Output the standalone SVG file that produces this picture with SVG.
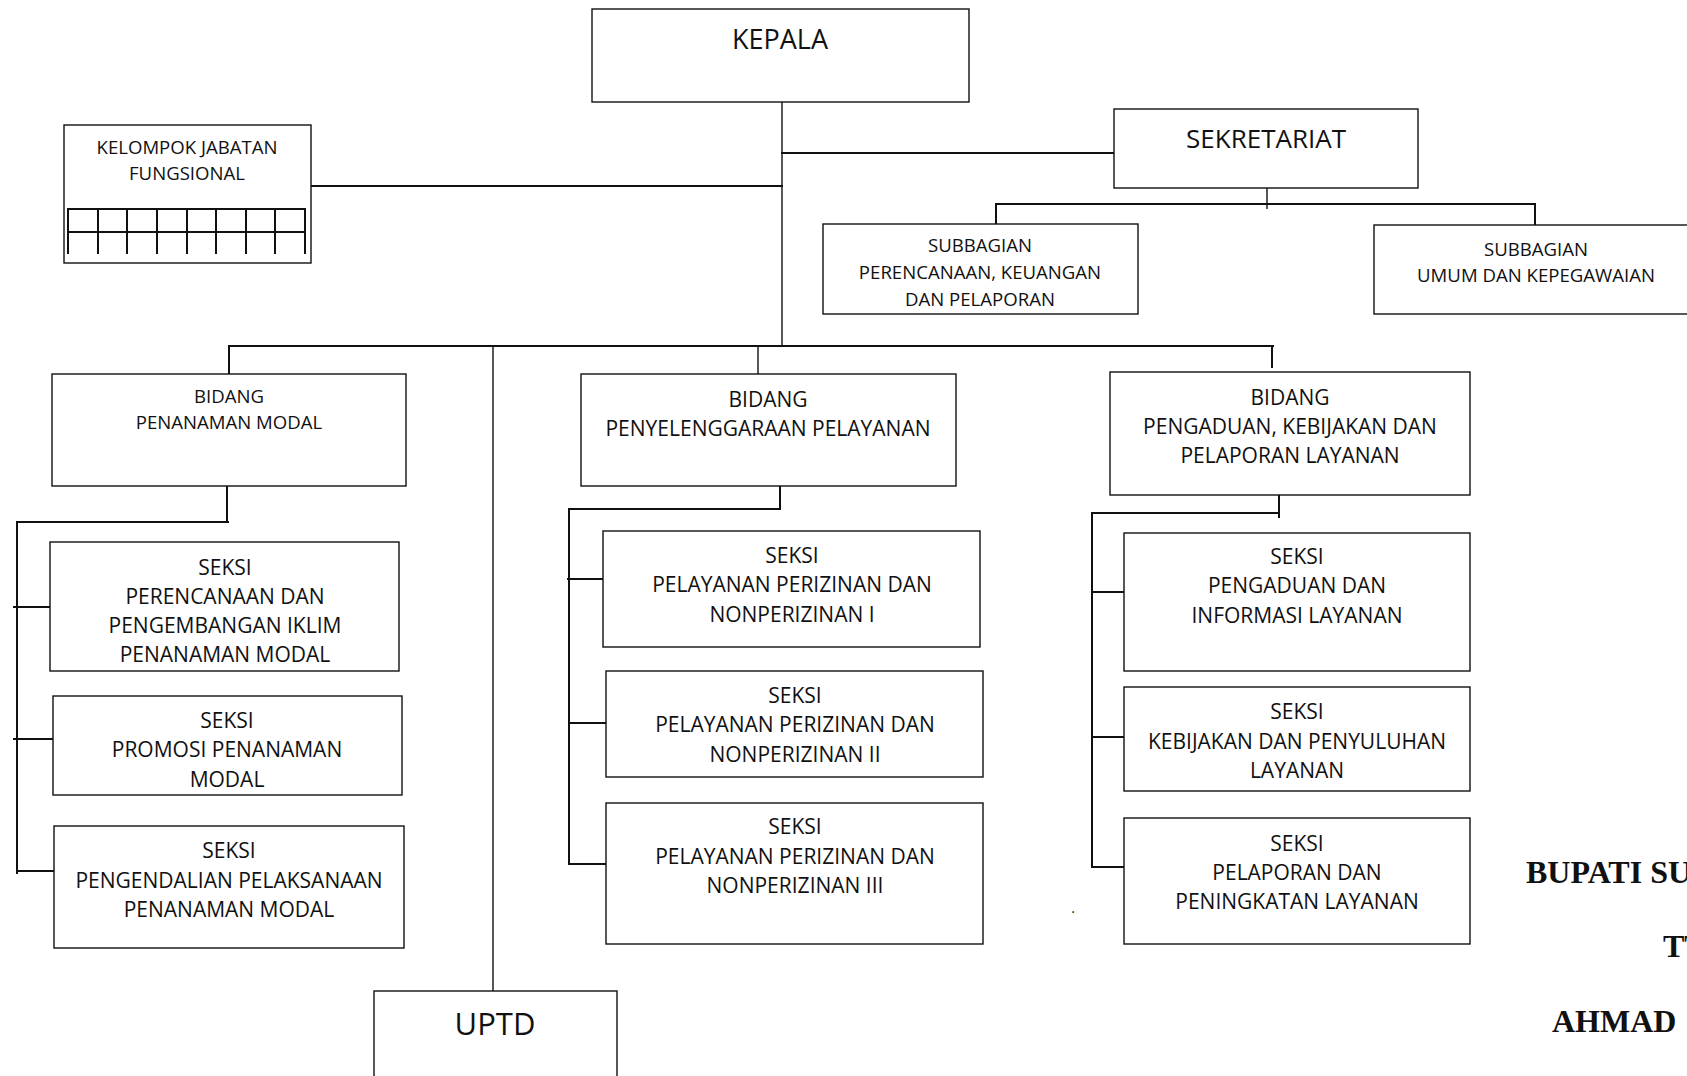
<svg xmlns="http://www.w3.org/2000/svg" width="1687" height="1076" viewBox="0 0 1687 1076">
<style>
.bg{fill:#fff}
.box{fill:#fff;stroke:#111;stroke-width:1.4}
.c{stroke:#111;stroke-width:2;fill:none;stroke-linecap:square}
.thin{stroke:#111;stroke-width:1.4;fill:none}
.t{font-family:"Open Sans","Noto Sans",sans-serif;text-anchor:middle;fill:#111}
.s18{font-size:18.6px}
.s21{font-size:21px}
.bup{font-family:"Liberation Serif","DejaVu Serif",serif;font-weight:bold;font-size:32px;fill:#111}
</style>
<rect class="bg" x="0" y="0" width="1687" height="1076"/>

<g id="connectors">
  <line class="thin" x1="782" y1="102" x2="782" y2="347"/>
  <line class="c" x1="782" y1="153" x2="1114" y2="153"/>
  <line class="c" x1="311" y1="186" x2="782" y2="186"/>
  <line class="thin" x1="1267" y1="188" x2="1267" y2="209"/>
  <polyline class="c" points="996,224 996,204 1535,204 1535,225"/>
  <line class="c" x1="229" y1="346" x2="1273" y2="346"/>
  <line class="c" x1="229" y1="346" x2="229" y2="374"/>
  <line class="thin" x1="493" y1="346" x2="493" y2="991"/>
  <line class="thin" x1="758" y1="346" x2="758" y2="376"/>
  <line class="c" x1="1272" y1="346" x2="1272" y2="367"/>
  <line class="c" x1="227" y1="486" x2="227" y2="522"/>
  <line class="c" x1="17" y1="522" x2="228" y2="522"/>
  <line class="c" x1="17" y1="522" x2="17" y2="873"/>
  <line class="c" x1="14" y1="607" x2="50" y2="607"/>
  <line class="c" x1="14" y1="739" x2="53" y2="739"/>
  <line class="c" x1="17" y1="871" x2="54" y2="871"/>
  <line class="c" x1="780" y1="486" x2="780" y2="509"/>
  <line class="c" x1="569" y1="509" x2="780" y2="509"/>
  <line class="c" x1="569" y1="509" x2="569" y2="864"/>
  <line class="c" x1="568" y1="579" x2="603" y2="579"/>
  <line class="c" x1="569" y1="723" x2="610" y2="723"/>
  <line class="c" x1="569" y1="864" x2="608" y2="864"/>
  <line class="c" x1="1279" y1="495" x2="1279" y2="517"/>
  <line class="c" x1="1092" y1="513" x2="1279" y2="513"/>
  <line class="c" x1="1092" y1="513" x2="1092" y2="867"/>
  <line class="c" x1="1092" y1="592" x2="1127" y2="592"/>
  <line class="c" x1="1092" y1="737" x2="1127" y2="737"/>
  <line class="c" x1="1092" y1="867" x2="1127" y2="867"/>
</g>

<g id="kepala">
  <rect class="box" x="592" y="9" width="377" height="93"/>
  <text class="t" x="780" y="49" font-size="27">KEPALA</text>
</g>

<g id="sekretariat">
  <rect class="box" x="1114" y="109" width="304" height="79"/>
  <text class="t" x="1266" y="148" font-size="26">SEKRETARIAT</text>
</g>

<g id="kelompok-jabatan-fungsional">
  <rect class="box" x="64" y="125" width="247" height="138"/>
  <text class="t s18" x="187" y="154">KELOMPOK JABATAN</text>
  <text class="t s18" x="187" y="180">FUNGSIONAL</text>
  <g class="c">
    <line x1="68" y1="209" x2="305" y2="209"/>
    <line x1="68" y1="232" x2="305" y2="232"/>
    <line x1="68" y1="209" x2="68" y2="253"/>
    <line x1="98" y1="209" x2="98" y2="253"/>
    <line x1="127" y1="209" x2="127" y2="253"/>
    <line x1="157" y1="209" x2="157" y2="253"/>
    <line x1="187" y1="209" x2="187" y2="253"/>
    <line x1="216" y1="209" x2="216" y2="253"/>
    <line x1="246" y1="209" x2="246" y2="253"/>
    <line x1="275" y1="209" x2="275" y2="253"/>
    <line x1="305" y1="209" x2="305" y2="253"/>
  </g>
</g>

<g id="subbagian-perencanaan">
  <rect class="box" x="823" y="224" width="315" height="90"/>
  <text class="t s18" x="980" y="252">SUBBAGIAN</text>
  <text class="t s18" x="980" y="279">PERENCANAAN, KEUANGAN</text>
  <text class="t s18" x="980" y="306">DAN PELAPORAN</text>
</g>

<g id="subbagian-umum">
  <rect class="box" x="1374" y="225" width="330" height="89"/>
  <text class="t s18" x="1536" y="256">SUBBAGIAN</text>
  <text class="t s18" x="1536" y="282">UMUM DAN KEPEGAWAIAN</text>
</g>

<g id="bidang-penanaman-modal">
  <rect class="box" x="52" y="374" width="354" height="112"/>
  <text class="t s18" x="229" y="403">BIDANG</text>
  <text class="t s18" x="229" y="429">PENANAMAN MODAL</text>
</g>

<g id="bidang-penyelenggaraan-pelayanan">
  <rect class="box" x="581" y="374" width="375" height="112"/>
  <text class="t s21" x="768" y="407">BIDANG</text>
  <text class="t s21" x="768" y="436">PENYELENGGARAAN PELAYANAN</text>
</g>

<g id="bidang-pengaduan">
  <rect class="box" x="1110" y="372" width="360" height="123"/>
  <text class="t s21" x="1290" y="405">BIDANG</text>
  <text class="t s21" x="1290" y="434">PENGADUAN, KEBIJAKAN DAN</text>
  <text class="t s21" x="1290" y="463">PELAPORAN LAYANAN</text>
</g>

<g id="seksi-perencanaan">
  <rect class="box" x="50" y="542" width="349" height="129"/>
  <text class="t s21" x="225" y="575">SEKSI</text>
  <text class="t s21" x="225" y="604">PERENCANAAN DAN</text>
  <text class="t s21" x="225" y="633">PENGEMBANGAN IKLIM</text>
  <text class="t s21" x="225" y="662">PENANAMAN MODAL</text>
</g>

<g id="seksi-promosi">
  <rect class="box" x="53" y="696" width="349" height="99"/>
  <text class="t s21" x="227" y="728">SEKSI</text>
  <text class="t s21" x="227" y="757">PROMOSI PENANAMAN</text>
  <text class="t s21" x="227" y="787">MODAL</text>
</g>

<g id="seksi-pengendalian">
  <rect class="box" x="54" y="826" width="350" height="122"/>
  <text class="t s21" x="229" y="858">SEKSI</text>
  <text class="t s21" x="229" y="888">PENGENDALIAN PELAKSANAAN</text>
  <text class="t s21" x="229" y="917">PENANAMAN MODAL</text>
</g>

<g id="seksi-pelayanan-1">
  <rect class="box" x="603" y="531" width="377" height="116"/>
  <text class="t s21" x="792" y="563">SEKSI</text>
  <text class="t s21" x="792" y="592">PELAYANAN PERIZINAN DAN</text>
  <text class="t s21" x="792" y="622">NONPERIZINAN I</text>
</g>

<g id="seksi-pelayanan-2">
  <rect class="box" x="606" y="671" width="377" height="106"/>
  <text class="t s21" x="795" y="703">SEKSI</text>
  <text class="t s21" x="795" y="732">PELAYANAN PERIZINAN DAN</text>
  <text class="t s21" x="795" y="762">NONPERIZINAN II</text>
</g>

<g id="seksi-pelayanan-3">
  <rect class="box" x="606" y="803" width="377" height="141"/>
  <text class="t s21" x="795" y="834">SEKSI</text>
  <text class="t s21" x="795" y="864">PELAYANAN PERIZINAN DAN</text>
  <text class="t s21" x="795" y="893">NONPERIZINAN III</text>
</g>

<g id="seksi-pengaduan">
  <rect class="box" x="1124" y="533" width="346" height="138"/>
  <text class="t s21" x="1297" y="564">SEKSI</text>
  <text class="t s21" x="1297" y="593">PENGADUAN DAN</text>
  <text class="t s21" x="1297" y="623">INFORMASI LAYANAN</text>
</g>

<g id="seksi-kebijakan">
  <rect class="box" x="1124" y="687" width="346" height="104"/>
  <text class="t s21" x="1297" y="719">SEKSI</text>
  <text class="t s21" x="1297" y="749">KEBIJAKAN DAN PENYULUHAN</text>
  <text class="t s21" x="1297" y="778">LAYANAN</text>
</g>

<g id="seksi-pelaporan">
  <rect class="box" x="1124" y="818" width="346" height="126"/>
  <text class="t s21" x="1297" y="851">SEKSI</text>
  <text class="t s21" x="1297" y="880">PELAPORAN DAN</text>
  <text class="t s21" x="1297" y="909">PENINGKATAN LAYANAN</text>
</g>

<g id="uptd">
  <rect class="box" x="374" y="991" width="243" height="95"/>
  <text class="t" x="495" y="1035" font-size="31">UPTD</text>
</g>

<g id="signature">
  <text class="t" x="1073" y="913" font-size="14">.</text>
  <text class="bup" x="1526" y="883">BUPATI SU</text>
  <text class="bup" x="1663" y="957">TT</text>
  <text class="bup" x="1552" y="1032">AHMAD</text>
</g>
</svg>
